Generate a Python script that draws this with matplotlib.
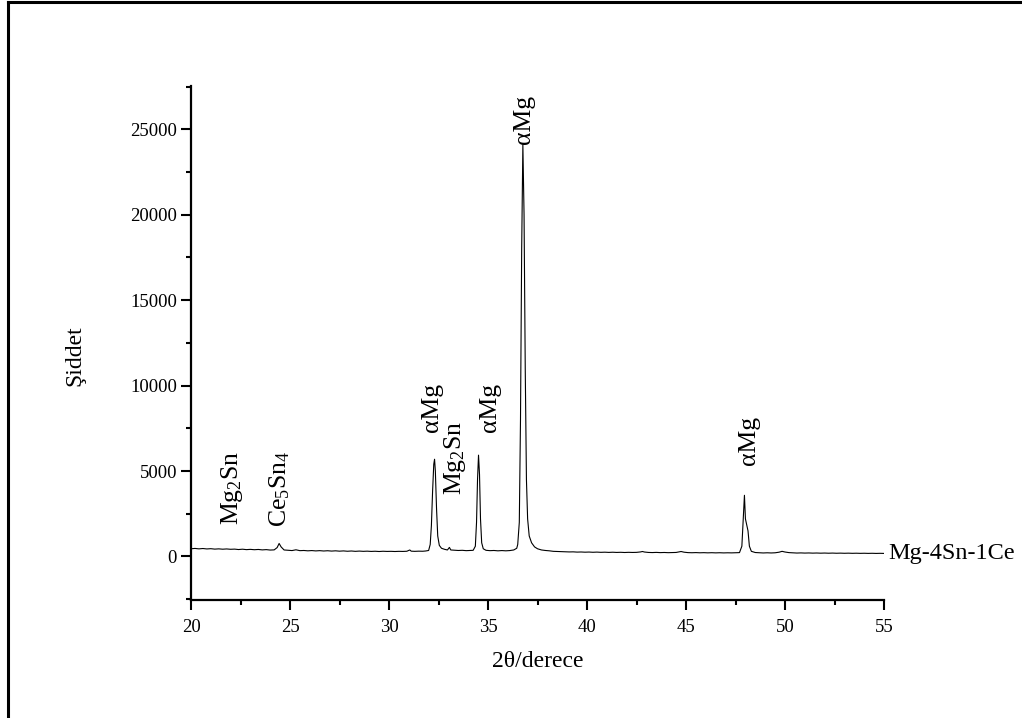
import matplotlib
matplotlib.use("Agg")
import matplotlib.pyplot as plt
from matplotlib.lines import Line2D
from matplotlib.ticker import MultipleLocator

plt.rcParams['font.family'] = ['Liberation Serif', 'DejaVu Serif']
plt.rcParams['mathtext.fontset'] = 'custom'
plt.rcParams['mathtext.rm'] = 'Liberation Serif'
plt.rcParams['mathtext.default'] = 'regular'

# XRD pattern (2theta in degrees, intensity in counts)
two_theta = [20.0, 20.2, 20.4, 20.6, 20.8, 21.0, 21.2, 21.4, 21.6, 21.8, 22.0, 22.2,
             22.4, 22.6, 22.8, 23.0, 23.2, 23.4, 23.6, 23.8, 24.0, 24.2,
             24.35, 24.45, 24.55, 24.7,
             24.9, 25.1, 25.3, 25.5, 25.7, 25.9, 26.1, 26.3, 26.5, 26.7, 26.9, 27.1,
             27.3, 27.5, 27.7, 27.9, 28.1, 28.3, 28.5, 28.7, 28.9, 29.1, 29.3, 29.5,
             29.7, 29.9, 30.1, 30.3, 30.5, 30.7, 30.9,
             31.05, 31.12, 31.3, 31.5, 31.7, 31.85, 32.0,
             32.08, 32.14, 32.2, 32.26, 32.3, 32.34, 32.4, 32.46, 32.54, 32.65, 32.8,
             32.95, 33.05, 33.12, 33.3, 33.5, 33.7, 33.9, 34.1, 34.25,
             34.36, 34.42, 34.47, 34.52, 34.57, 34.62, 34.68, 34.76,
             34.9, 35.1, 35.3, 35.5, 35.7, 35.9, 36.1, 36.3, 36.45,
             36.5, 36.58, 36.64, 36.7, 36.76, 36.82, 36.88, 36.94, 37.0, 37.08, 37.2,
             37.35, 37.5, 37.7, 37.9, 38.1,
             38.3, 38.5, 38.7, 38.9, 39.1, 39.3, 39.5, 39.7, 39.9, 40.1, 40.3, 40.5,
             40.7, 40.9, 41.1, 41.3, 41.5, 41.7, 41.9, 42.1, 42.3, 42.5, 42.7, 42.8,
             42.9, 43.1, 43.3, 43.5, 43.7, 43.9, 44.1, 44.3, 44.5, 44.65, 44.75, 44.9,
             45.1, 45.3, 45.5, 45.7, 45.9, 46.1, 46.3, 46.5, 46.7, 46.9, 47.1, 47.3,
             47.5, 47.7,
             47.82, 47.9, 47.95, 48.0, 48.08, 48.13, 48.2, 48.3, 48.5,
             48.7, 48.9, 49.1, 49.3, 49.5, 49.7, 49.85, 50.0, 50.2, 50.4, 50.6, 50.8,
             51.0, 51.2, 51.4, 51.6, 51.8, 52.0, 52.2, 52.4, 52.6, 52.8, 53.0, 53.2,
             53.4, 53.6, 53.8, 54.0, 54.2, 54.4, 54.6, 54.8, 55.0]
intensity = [450, 470, 445, 465, 440, 455, 430, 445, 425, 440, 420, 430,
             405, 425, 400, 415, 395, 410, 385, 400, 375, 385,
             520, 760, 560, 380,
             360, 345, 390, 340, 350, 330, 345, 325, 340, 320, 335, 315,
             330, 310, 325, 305, 320, 300, 315, 300, 310, 295, 305, 290,
             305, 295, 300, 290, 300, 295, 305,
             380, 310, 300, 310, 305, 320, 350,
             700, 1800, 3800, 5400, 5690, 5000, 2800, 1200, 650, 480, 420,
             380, 530, 380, 365, 350, 360, 340, 355, 360,
             600, 2000, 4500, 5930, 4800, 2200, 800, 450,
             360, 340, 350, 330, 345, 330, 345, 380, 480,
             700, 2000, 8000, 18000, 24100, 20000, 11000, 4500, 2200, 1200, 800,
             560, 450, 380, 350, 330,
             300, 290, 280, 275, 265, 270, 255, 262, 250, 258, 245, 255,
             242, 250, 238, 248, 236, 244, 232, 242, 235, 240, 265, 290,
             260, 235, 228, 238, 225, 233, 222, 230, 235, 270, 290, 250,
             225, 218, 226, 215, 222, 212, 220, 210, 218, 208, 215, 210,
             218, 225,
             600, 2500, 3580, 2200, 1750, 1500, 600, 300, 230,
             215, 205, 215, 205, 215, 250, 300, 260, 225, 210, 200, 208,
             198, 205, 195, 202, 192, 200, 190, 198, 188, 195, 186, 193,
             184, 190, 182, 188, 180, 186, 178, 184, 178]

# phase labels: text, x position, bottom of label (y)
peak_labels = [r'Mg$_2$Sn', r'Ce$_5$Sn$_4$', 'αMg', r'Mg$_2$Sn', 'αMg', 'αMg', 'αMg']
label_x = [22.07, 24.5, 32.19, 33.35, 35.12, 36.8, 48.17]
label_y = [1820, 1700, 7280, 3580, 7280, 24130, 5340]

sample_name = 'Mg-4Sn-1Ce'

fig = plt.figure(figsize=(10.22, 7.18), dpi=100)
ax = fig.add_axes([0.1869, 0.1643, 0.6781, 0.7163])

ax.plot(two_theta, intensity, color='black', lw=0.8)

for txt, x, y in zip(peak_labels, label_x, label_y):
    ax.text(x, y, txt, rotation=90, ha='center', va='bottom', fontsize=18.5)

# sample name to the right of the curve end
ax.annotate(sample_name, xy=(two_theta[-1], intensity[-1]), xytext=(3, 0),
            textcoords='offset points', ha='left', va='center', fontsize=17.5,
            annotation_clip=False)

ax.set_xlim(20, 55)
ax.set_ylim(-2550, 27550)
ax.xaxis.set_major_locator(MultipleLocator(5))
ax.xaxis.set_minor_locator(MultipleLocator(2.5))
ax.yaxis.set_major_locator(MultipleLocator(5000))
ax.yaxis.set_minor_locator(MultipleLocator(2500))

for side in ['top', 'right']:
    ax.spines[side].set_visible(False)
for side in ['left', 'bottom']:
    ax.spines[side].set_linewidth(1.6)

ax.tick_params(which='major', direction='out', length=7, width=1.5, labelsize=13.5, pad=3)
ax.tick_params(which='minor', direction='out', length=3.5, width=1.5)
ax.tick_params(axis='x', which='major', pad=7)

ax.set_xlabel('2θ/derece', fontsize=17)
ax.set_ylabel('Şiddet', fontsize=17)
ax.xaxis.set_label_coords(0.5, -0.1)
ax.yaxis.set_label_coords(-0.153, 0.476)

# page frame lines (top and left)
fig.add_artist(Line2D([0.008, 1.0], [0.997, 0.997], color='black', lw=2.2))
fig.add_artist(Line2D([0.008, 0.008], [0.0, 0.997], color='black', lw=2.2))

fig.savefig('out.png', dpi=100)
